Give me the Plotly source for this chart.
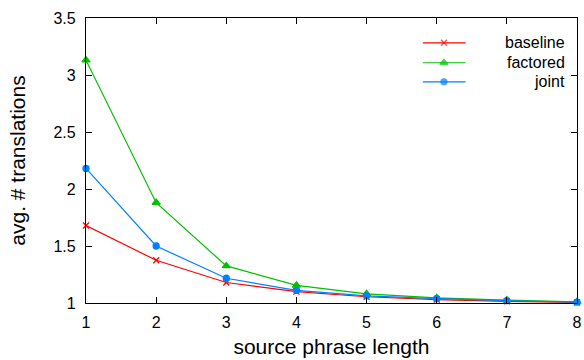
import plotly.graph_objects as go

x_vals = [1, 2, 3, 4, 5, 6, 7, 8]
baseline = [1.68, 1.375, 1.18, 1.10, 1.055, 1.03, 1.015, 1.005]
factored = [3.13, 1.88, 1.325, 1.155, 1.08, 1.045, 1.025, 1.01]
joint = [2.18, 1.50, 1.217, 1.11, 1.063, 1.038, 1.02, 1.008]

series_names = ["baseline", "factored", "joint"]
series_values = [baseline, factored, joint]
series_colors = ["#ff0000", "#00c000", "#0080ff"]
series_symbols = ["x-thin-open", "triangle-up", "circle"]
series_sizes = [6, 7, 6]

x_ticks = [1, 2, 3, 4, 5, 6, 7, 8]
y_ticks = [1, 1.5, 2, 2.5, 3, 3.5]
y_tick_text = ["1", "1.5", "2", "2.5", "3", "3.5"]

FONT = "Liberation Sans, Arial, Helvetica, sans-serif"

fig = go.Figure()
for name, vals, col, sym, sz in zip(series_names, series_values, series_colors, series_symbols, series_sizes):
    fig.add_trace(go.Scatter(
        x=x_vals, y=vals, mode="lines+markers", name=name,
        line=dict(color=col, width=1.2),
        marker=dict(symbol=sym, size=sz, color=col, line=dict(color=col, width=1.3)),
        cliponaxis=False, showlegend=False,
    ))

# custom legend (right-aligned labels like the original)
leg_x0, leg_xm, leg_x1 = 0.686, 0.729, 0.773
leg_rows = [0.913, 0.843, 0.776]
leg_text_x = 0.979
for name, col, sym, sz, ry in zip(series_names, series_colors, series_symbols, series_sizes, leg_rows):
    fig.add_trace(go.Scatter(
        x=[leg_x0, leg_xm, leg_x1], y=[ry, ry, ry], mode="lines+markers",
        xaxis="x2", yaxis="y2",
        line=dict(color=col, width=1.2),
        marker=dict(symbol=sym, size=[0, sz, 0], color=col, line=dict(color=col, width=1.3)),
        showlegend=False, hoverinfo="skip", cliponaxis=False,
    ))
    fig.add_annotation(x=leg_text_x, y=ry, xref="paper", yref="paper", text=name,
                       showarrow=False, xanchor="right", yanchor="middle",
                       font=dict(family=FONT, size=16, color="black"))

axis_common = dict(
    showline=True, linecolor="black", linewidth=1.3, mirror="allticks",
    ticks="inside", ticklen=6, tickwidth=1, tickcolor="black",
    showgrid=False, zeroline=False, automargin=False, ticklabeloverflow="allow",
    tickfont=dict(family=FONT, size=16, color="black"),
)

fig.update_layout(
    width=584, height=360,
    margin=dict(l=86, r=7, t=18, b=57),
    paper_bgcolor="white", plot_bgcolor="white",
    font=dict(family=FONT, color="black"),
    xaxis=dict(range=[1, 8], tickvals=x_ticks, ticklabelstandoff=5,
               title=dict(text="source phrase length", font=dict(family=FONT, size=21), standoff=8),
               **axis_common),
    yaxis=dict(range=[1, 3.5], tickvals=y_ticks, ticktext=y_tick_text, ticklabelstandoff=6,
               title=dict(text="avg. # translations", font=dict(family=FONT, size=21), standoff=22),
               **axis_common),
    xaxis2=dict(overlaying="x", range=[0, 1], visible=False),
    yaxis2=dict(overlaying="y", range=[0, 1], visible=False),
    showlegend=False,
)

fig.write_html("out.html", config={"displayModeBar": False},
               post_script="document.body.style.margin='0px';document.body.style.overflow='hidden';")
